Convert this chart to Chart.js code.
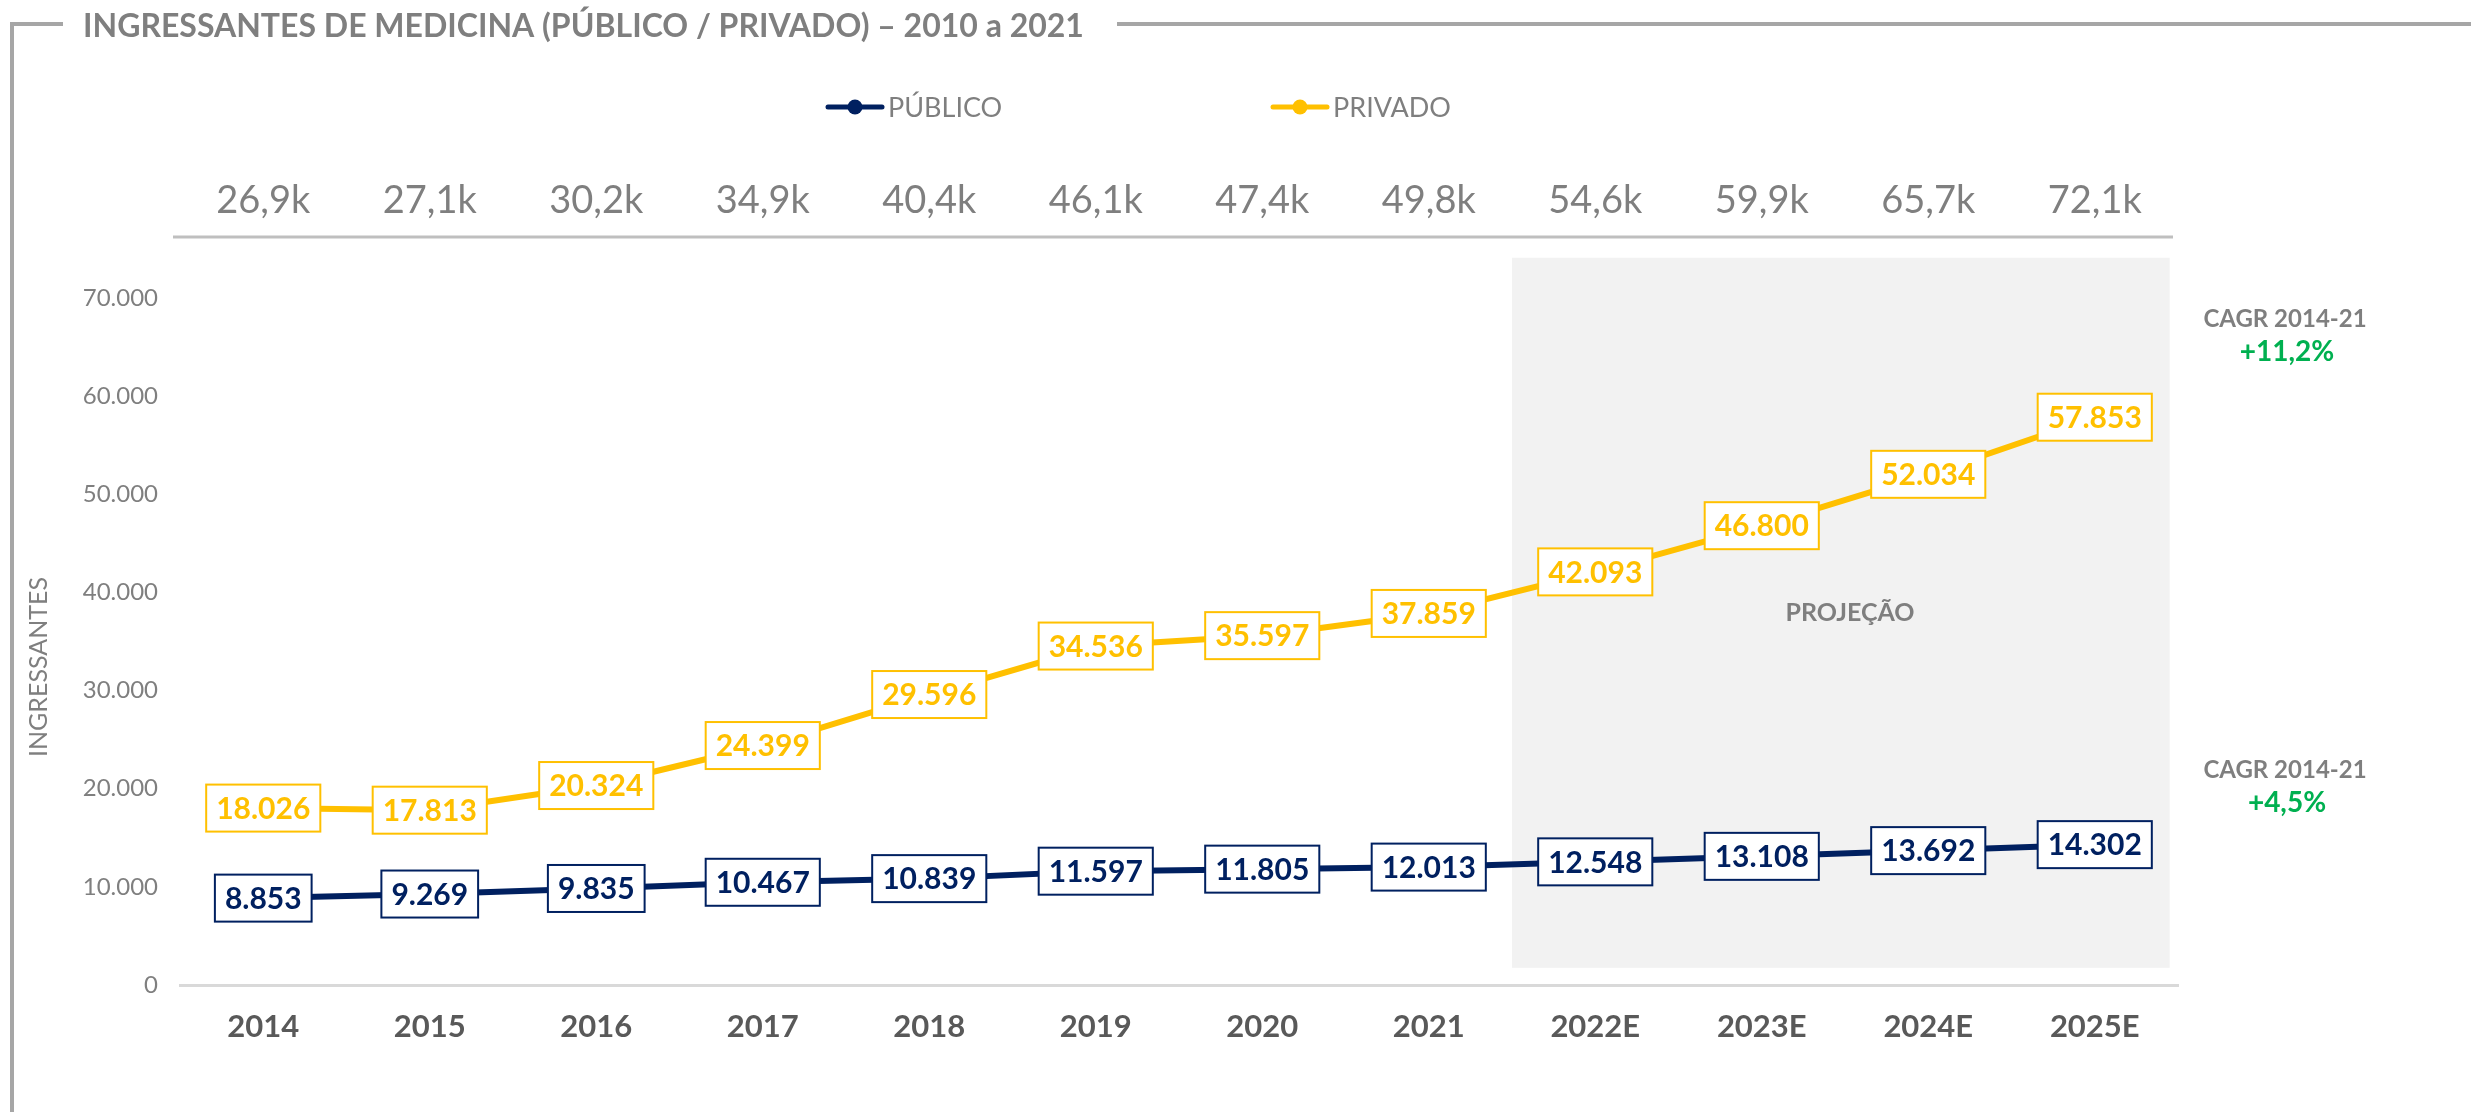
<!DOCTYPE html>
<html><head><meta charset="utf-8">
<script src="https://cdn.jsdelivr.net/npm/chart.js@4"></script>
<style>html,body{margin:0;padding:0;background:#fff;overflow:hidden}#wrap{width:2471px;height:1112px;position:relative}</style>
</head><body><div id="wrap"><canvas id="c" width="2471" height="1112"></canvas></div>
<script>
const categories = ["2014","2015","2016","2017","2018","2019","2020","2021","2022E","2023E","2024E","2025E"];
const publico = [8853, 9269, 9835, 10467, 10839, 11597, 11805, 12013, 12548, 13108, 13692, 14302];
const privado = [18026, 17813, 20324, 24399, 29596, 34536, 35597, 37859, 42093, 46800, 52034, 57853];
const totals = ["26,9k","27,1k","30,2k","34,9k","40,4k","46,1k","47,4k","49,8k","54,6k","59,9k","65,7k","72,1k"];
const seriesNames = ["PÚBLICO","PRIVADO"];
const cagrLabel = "CAGR 2014-21";
const cagrPrivado = "+11,2%";
const cagrPublico = "+4,5%";
const titleText = "INGRESSANTES DE MEDICINA (PÚBLICO / PRIVADO) – 2010 a 2021";
const yTitle = "INGRESSANTES";
const projText = "PROJEÇÃO";

const NAVY = '#002060', GOLD = '#FFC000', GREEN = '#00B050', GRAY = '#7F7F7F', DARK = '#595959';
const F = 'Lato, "Open Sans", sans-serif';
const fmt = v => String(v).replace(/\B(?=(\d{3})+(?!\d))/g, '.');

const overlay = {
  id: 'overlay',
  beforeDatasetsDraw(chart) {
    const {ctx, scales: {x, y}} = chart;
    const step = x.getPixelForValue(1) - x.getPixelForValue(0);
    const l = (x.getPixelForValue(7) + x.getPixelForValue(8)) / 2;
    const r = x.getPixelForValue(11) + step * 0.45;
    const t = y.getPixelForValue(74100);
    const b = y.getPixelForValue(1750);
    ctx.save();
    ctx.fillStyle = '#F2F2F2';
    ctx.fillRect(l, t, r - l, b - t);
    ctx.fillStyle = GRAY;
    ctx.font = `bold 25px ${F}`;
    ctx.textAlign = 'center'; ctx.textBaseline = 'middle';
    ctx.fillText(projText, x.getPixelForValue(9.53), y.getPixelForValue(37900));
    ctx.restore();
  },
  afterDatasetsDraw(chart) {
    const {ctx} = chart;
    ctx.save();
    ctx.font = `bold 30px ${F}`;
    ctx.textAlign = 'center'; ctx.textBaseline = 'middle';
    chart.data.datasets.forEach((ds, di) => {
      const meta = chart.getDatasetMeta(di);
      meta.data.forEach((pt, i) => {
        const txt = fmt(ds.data[i]);
        const w = ctx.measureText(txt).width + 20, h = 47;
        ctx.fillStyle = '#FFFFFF';
        ctx.fillRect(pt.x - w / 2, pt.y - h / 2, w, h);
        ctx.lineWidth = 2;
        ctx.strokeStyle = ds.borderColor;
        ctx.strokeRect(pt.x - w / 2, pt.y - h / 2, w, h);
        ctx.fillStyle = ds.borderColor;
        ctx.fillText(txt, pt.x, pt.y + 1);
      });
    });
    ctx.restore();
  },
  afterDraw(chart) {
    const {ctx, scales: {x}} = chart;
    ctx.save();
    // frame
    ctx.strokeStyle = '#A6A6A6'; ctx.lineWidth = 4;
    ctx.beginPath();
    ctx.moveTo(63, 24); ctx.lineTo(12, 24); ctx.lineTo(12, 1112);
    ctx.moveTo(1117, 24); ctx.lineTo(2471, 24);
    ctx.stroke();
    // title
    ctx.fillStyle = GRAY; ctx.font = `bold 32px ${F}`;
    ctx.textAlign = 'left'; ctx.textBaseline = 'middle';
    ctx.fillText(titleText, 83, 27);
    // legend
    const leg = [[855, NAVY, seriesNames[0]], [1300, GOLD, seriesNames[1]]];
    leg.forEach(([cx, col, name]) => {
      ctx.strokeStyle = col; ctx.lineWidth = 5; ctx.lineCap = 'round';
      ctx.beginPath(); ctx.moveTo(cx - 27, 107); ctx.lineTo(cx + 27, 107); ctx.stroke();
      ctx.fillStyle = col; ctx.beginPath(); ctx.arc(cx, 107, 7.5, 0, Math.PI * 2); ctx.fill();
      ctx.fillStyle = GRAY; ctx.font = `27px ${F}`; ctx.textAlign = 'left';
      ctx.fillText(name, cx + 33, 108);
    });
    // totals row
    ctx.fillStyle = GRAY; ctx.font = `38px ${F}`; ctx.textAlign = 'center';
    totals.forEach((t, i) => ctx.fillText(t, x.getPixelForValue(i), 201));
    ctx.strokeStyle = '#BFBFBF'; ctx.lineWidth = 3; ctx.lineCap = 'butt';
    ctx.beginPath(); ctx.moveTo(x.left - 7, 237); ctx.lineTo(x.right - 5, 237); ctx.stroke();
    // CAGR
    ctx.font = `bold 24px ${F}`; ctx.fillStyle = GRAY;
    ctx.fillText(cagrLabel, 2285, 319);
    ctx.fillText(cagrLabel, 2285, 770);
    ctx.font = `bold 28px ${F}`; ctx.fillStyle = GREEN;
    ctx.fillText(cagrPrivado, 2287, 352);
    ctx.fillText(cagrPublico, 2287, 803);
    // y title
    ctx.translate(39, 667); ctx.rotate(-Math.PI / 2);
    ctx.font = `25px ${F}`; ctx.fillStyle = GRAY;
    ctx.fillText(yTitle, 0, 0);
    ctx.restore();
  }
};

function build() {
  new Chart(document.getElementById('c'), {
    type: 'line',
    data: {
      labels: categories,
      datasets: [
        {label: seriesNames[0], data: publico, borderColor: NAVY, backgroundColor: NAVY, borderWidth: 6, pointRadius: 0, tension: 0},
        {label: seriesNames[1], data: privado, borderColor: GOLD, backgroundColor: GOLD, borderWidth: 6, pointRadius: 0, tension: 0}
      ]
    },
    options: {
      responsive: false, animation: false, devicePixelRatio: 1,
      layout: {padding: {top: 298, right: 293, bottom: 0, left: 0}},
      plugins: {legend: {display: false}, tooltip: {enabled: false}, title: {display: false}},
      scales: {
        x: {
          offset: true,
          grid: {display: false, drawTicks: false},
          border: {display: true, color: '#D9D9D9', width: 3},
          ticks: {color: DARK, font: {family: F, size: 31, weight: 'bold'}, padding: 23, maxRotation: 0},
          afterFit: s => { s.height = 127; }
        },
        y: {
          min: 0, max: 70000,
          grid: {display: false, drawTicks: false},
          border: {display: false},
          ticks: {stepSize: 10000, color: GRAY, font: {family: F, size: 24}, padding: 22, callback: v => fmt(v)},
          afterFit: s => { s.width = 180; }
        }
      }
    },
    plugins: [overlay]
  });
}
let built = false;
function go() { if (!built) { built = true; build(); } }
if (document.fonts && document.fonts.load) {
  Promise.all([document.fonts.load('bold 30px Lato'), document.fonts.load('30px Lato')]).then(go, go);
  setTimeout(go, 800);
} else go();
</script></body></html>
